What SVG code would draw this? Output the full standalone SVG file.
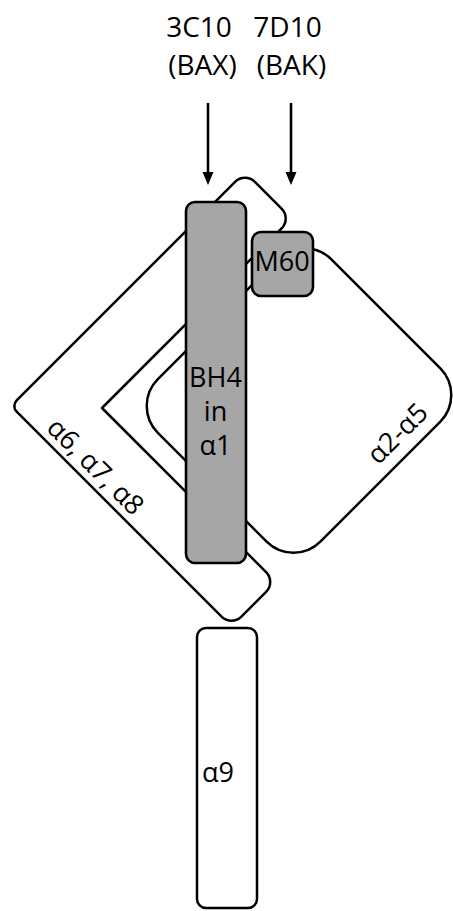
<svg xmlns="http://www.w3.org/2000/svg" width="453" height="911" viewBox="0 0 453 911">
<defs>
<style>
.shape{fill:#ffffff;stroke:#000000;stroke-width:2.5;stroke-linejoin:round}
.gray{fill:#a6a6a6;stroke:#000000;stroke-width:2.6}
.lbl{font-family:"Open Sans","Noto Sans",sans-serif;font-size:27px;fill:#000000;text-anchor:middle}
.top{font-size:28px}
.arrow{stroke:#000000;stroke-width:2.6}
.head{fill:#000000}
</style>
</defs>
<rect width="453" height="911" fill="#ffffff"/>

<g id="alpha6-8">
<path class="shape" d="M235.1 181.9 L16.66 400.34 A8 8 0 0 0 16.66 411.66 L221.6 616.6 A14 14 0 0 0 241.4 616.6 L266.1 591.9 A14 14 0 0 0 266.1 572.1 L102 408 L281.6 228.4 A14 14 0 0 0 281.6 208.6 L254.9 181.9 A14 14 0 0 0 235.1 181.9 Z"/>
<text class="lbl" x="89" y="473" transform="rotate(45 89 473)">α6, α7, α8</text>
</g>

<g id="alpha2-5">
<path class="shape" d="M331.37 259.37 L440.13 368.13 A38 38 0 0 1 440.13 421.87 L320.37 541.63 A38 38 0 0 1 266.63 541.63 L157.87 432.87 A38 38 0 0 1 157.87 379.13 L277.63 259.37 A38 38 0 0 1 331.37 259.37 Z"/>
<text class="lbl" x="404" y="440" transform="rotate(-45 404 440)">α2-α5</text>
</g>

<g id="bh4-alpha1">
<rect class="gray" x="186" y="202" width="60" height="361" rx="9"/>
<text class="lbl" x="215.5" y="387">BH4</text>
<text class="lbl" x="215.5" y="421">in</text>
<text class="lbl" x="215.5" y="455">α1</text>
</g>

<g id="m60">
<rect class="gray" x="252" y="232" width="61" height="64" rx="9"/>
<text class="lbl" x="282" y="271">M60</text>
</g>

<g id="alpha9">
<rect class="shape" x="197" y="628" width="60" height="280" rx="9"/>
<text class="lbl" x="218" y="782">α9</text>
</g>

<g id="ab-3c10">
<text class="lbl top" x="199" y="37">3C10</text>
<text class="lbl top" x="202.5" y="75">(BAX)</text>
</g>
<g id="ab-7d10">
<text class="lbl top" x="287.5" y="37">7D10</text>
<text class="lbl top" x="291.5" y="75">(BAK)</text>
</g>

<g id="connectors">
<line class="arrow" x1="208" y1="103" x2="208" y2="174"/>
<polygon class="head" points="202.5,172 213.5,172 208,185"/>
<line class="arrow" x1="291" y1="103" x2="291" y2="174"/>
<polygon class="head" points="285.5,172 296.5,172 291,185"/>
</g>
</svg>
